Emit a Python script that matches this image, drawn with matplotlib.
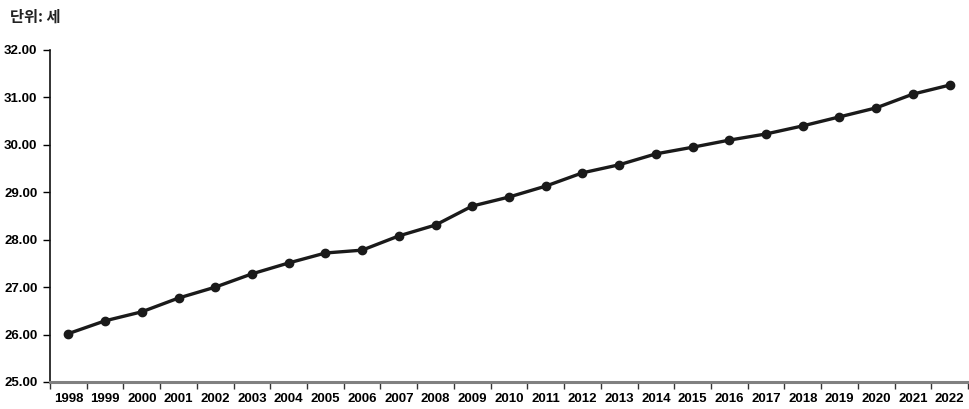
import matplotlib
matplotlib.use("Agg")
import matplotlib.pyplot as plt
from matplotlib import font_manager as fm

years = [str(y) for y in range(1998, 2023)]
ages = [26.02, 26.29, 26.48, 26.77, 27.00, 27.28, 27.51, 27.72, 27.78, 28.08,
        28.31, 28.71, 28.90, 29.13, 29.41, 29.58, 29.81, 29.95, 30.10, 30.23,
        30.40, 30.59, 30.78, 31.07, 31.26]
yticks = [25, 26, 27, 28, 29, 30, 31, 32]
unit_label = "단위: 세"

names = {f.name for f in fm.fontManager.ttflist}
tick_font = "Liberation Sans Narrow" if "Liberation Sans Narrow" in names else "Liberation Sans"

fig = plt.figure(figsize=(9.69, 4.09), dpi=100)
ax = fig.add_axes([50/969, 1-382/409, 918/969, 332/409])

x = list(range(len(years)))
ax.plot(x, ages, color="#1a1a1a", lw=2.4, marker="o", ms=6, zorder=3)

ax.set_xlim(-0.5, len(years) - 0.5)
ax.set_ylim(25, 32)
ax.set_yticks(yticks)
ax.set_yticklabels([f"{v:.2f}" for v in yticks], fontsize=9.5, fontweight="bold",
                   family=tick_font)
ax.set_xticks(x)
ax.set_xticklabels(years, fontsize=9.5, fontweight="bold", family=tick_font)
ax.set_xticks([i - 0.5 for i in range(len(years) + 1)], minor=True)
ax.tick_params(axis="x", which="major", length=0, pad=8)
ax.tick_params(axis="x", which="minor", length=5, width=1, color="#333333", direction="out")
ax.tick_params(axis="y", length=5, width=1, direction="out", pad=4)

for s in ["top", "right"]:
    ax.spines[s].set_visible(False)
ax.spines["left"].set_color("#111111")
ax.spines["left"].set_linewidth(1.2)
ax.spines["bottom"].set_color("#808080")
ax.spines["bottom"].set_linewidth(2.2)

fig.text(10/969, 1-17/409, unit_label, fontsize=11, fontweight="bold",
         family=["Noto Sans CJK KR", "DejaVu Sans"], color="#222222", va="center")

fig.savefig("out.png", dpi=100)
